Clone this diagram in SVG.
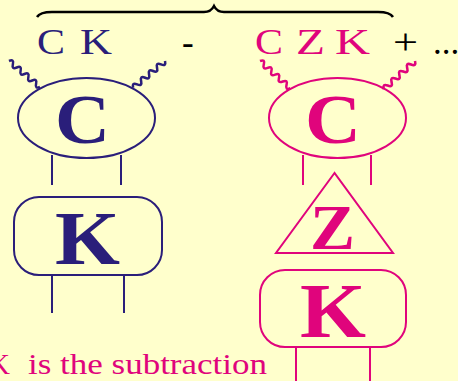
<svg xmlns="http://www.w3.org/2000/svg" width="458" height="381" viewBox="0 0 458 381">
<style>
.bg{fill:#FFFFCC}
.blue{fill:none;stroke:#2A1E7A;stroke-width:2}
.mag{fill:none;stroke:#E0047C;stroke-width:2}
.tb{fill:#2A1E7A;font-family:"Liberation Serif","Times New Roman",serif}
.tm{fill:#E0047C;font-family:"Liberation Serif","Times New Roman",serif}
.tk{fill:#000;font-family:"Liberation Serif","Times New Roman",serif}
.big{font-weight:bold}
.wv{stroke-width:2.5}
</style>
<defs>
<path id="wave" d="M0,0 q2.5,-5 5,0 t5,0 t5,0 t5,0 t5,0 t5,0 t5,0 t5,0"/>
</defs>
<rect class="bg" x="0" y="0" width="458" height="381"/>

<g id="brace">
<path d="M37,17 Q40,12 52,12 L204,12 Q211,12 214,6 Q217,12 224,12 L378,12 Q390,12 393,17" fill="none" stroke="#000" stroke-width="2.5"/>
</g>

<g id="labels">
<text class="tb" x="37" y="54" font-size="35" textLength="28" lengthAdjust="spacingAndGlyphs">C</text>
<text class="tb" x="80" y="54" font-size="35" textLength="32" lengthAdjust="spacingAndGlyphs">K</text>
<text class="tk" x="182" y="54" font-size="35">-</text>
<text class="tm" x="255" y="54" font-size="35" textLength="28" lengthAdjust="spacingAndGlyphs">C</text>
<text class="tm" x="296" y="54" font-size="35" textLength="29" lengthAdjust="spacingAndGlyphs">Z</text>
<text class="tm" x="335" y="54" font-size="35" textLength="35" lengthAdjust="spacingAndGlyphs">K</text>
<text class="tk" x="393" y="54" font-size="35" textLength="25" lengthAdjust="spacingAndGlyphs">+</text>
<text class="tk" x="433" y="54" font-size="35">...</text>
</g>

<g id="connectors">
<use href="#wave" class="blue wv" transform="translate(9,61) rotate(40) scale(1.01)"/>
<use href="#wave" class="blue wv" transform="translate(165,61) rotate(140) scale(1.04)"/>
<use href="#wave" class="mag wv" transform="translate(260,61) rotate(42) scale(1.02)"/>
<use href="#wave" class="mag wv" transform="translate(415,61) rotate(138) scale(1.05)"/>
<line class="blue" x1="52" y1="155" x2="52" y2="185"/>
<line class="blue" x1="121" y1="155" x2="121" y2="185"/>
<line class="blue" x1="52" y1="275" x2="52" y2="313"/>
<line class="blue" x1="124" y1="275" x2="124" y2="313"/>
<line class="mag" x1="303" y1="155" x2="303" y2="185"/>
<line class="mag" x1="371" y1="155" x2="371" y2="185"/>
<line class="mag" x1="296" y1="347" x2="296" y2="381"/>
<line class="mag" x1="370" y1="347" x2="370" y2="381"/>
</g>

<g id="nodeC1">
<ellipse class="blue" cx="86.5" cy="118" rx="68.5" ry="40"/>
<text class="tb big" x="55" y="143" font-size="70" textLength="55" lengthAdjust="spacingAndGlyphs">C</text>
</g>
<g id="nodeK1">
<rect class="blue" x="14" y="197" width="148" height="78" rx="25"/>
<text class="tb big" x="55" y="264" font-size="77" textLength="65" lengthAdjust="spacingAndGlyphs">K</text>
</g>
<g id="nodeC2">
<ellipse class="mag" cx="337.5" cy="118" rx="68.5" ry="40"/>
<text class="tm big" x="305" y="143" font-size="70" textLength="56" lengthAdjust="spacingAndGlyphs">C</text>
</g>
<g id="nodeZ">
<polygon class="mag" points="334.5,173 276,253 393,253"/>
<text class="tm big" x="310" y="249" font-size="63" textLength="45" lengthAdjust="spacingAndGlyphs">Z</text>
</g>
<g id="nodeK2">
<rect class="mag" x="260" y="270" width="146" height="77" rx="25"/>
<text class="tm big" x="300" y="337" font-size="78" textLength="66" lengthAdjust="spacingAndGlyphs">K</text>
</g>

<g id="caption">
<text class="tm" x="10" y="374" font-size="29" text-anchor="end">K</text>
<text class="tm" x="28" y="374" font-size="29" textLength="239" lengthAdjust="spacingAndGlyphs">is the subtraction</text>
</g>
</svg>
